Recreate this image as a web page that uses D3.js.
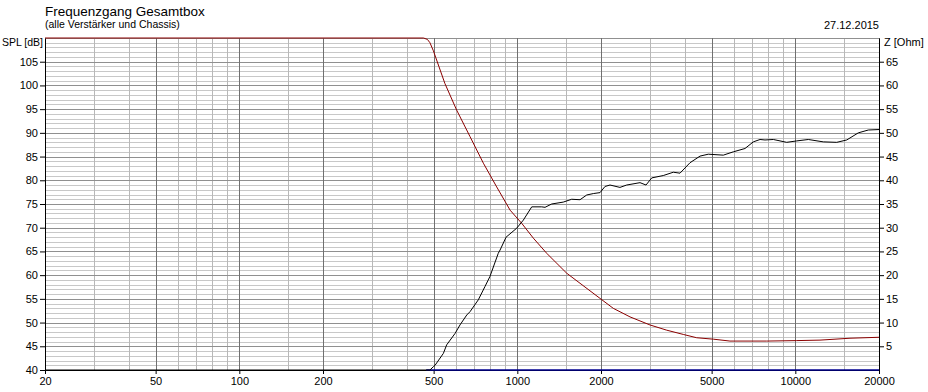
<!DOCTYPE html>
<html>
<head>
<meta charset="utf-8">
<script src="https://cdn.jsdelivr.net/npm/d3@7"></script>
<style>
  html, body { margin: 0; padding: 0; background: #fff; }
  svg { display: block; font-family: "Liberation Sans", Arial, sans-serif; }
</style>
</head>
<body>
<svg id="chart" width="928" height="392"></svg>
<script>
// ---- Data ----
const title = "Frequenzgang Gesamtbox";
const subtitle = "(alle Verstärker und Chassis)";
const dateLabel = "27.12.2015";
const leftAxisLabel = "SPL [dB]";
const rightAxisLabel = "Z [Ohm]";

const xTickValues = [20, 50, 100, 200, 500, 1000, 2000, 5000, 10000, 20000];
const xMinorGrid = [30, 40, 60, 70, 80, 90, 150, 300, 400, 600, 700, 800, 900, 1500, 3000, 4000, 6000, 7000, 8000, 9000, 15000];
const leftTickValues = [40, 45, 50, 55, 60, 65, 70, 75, 80, 85, 90, 95, 100, 105];
const rightTickValues = [5, 10, 15, 20, 25, 30, 35, 40, 45, 50, 55, 60, 65];

// SPL curve (black, left axis, dB)
const splFreq = [20, 485, 499, 506, 542, 557, 597, 622, 658, 676, 724, 765, 797, 854, 867, 911, 995, 1051, 1127, 1224, 1258, 1329, 1463, 1569, 1681, 1777, 1877, 1984, 2068, 2155, 2340, 2474, 2763, 2904, 3044, 3350, 3640, 3848, 4180, 4542, 4864, 5508, 5984, 6592, 7062, 7466, 7780, 8336, 9312, 10116, 11136, 12608, 14092, 15306, 16850, 18306, 20000];
const splDb = [40, 40, 40.7, 41.0, 43.5, 45.3, 47.7, 49.5, 51.6, 52.3, 54.8, 57.6, 59.7, 64.6, 65.3, 68.0, 69.9, 71.6, 74.4, 74.4, 74.3, 75.0, 75.4, 76.0, 75.9, 76.9, 77.2, 77.4, 78.7, 79.0, 78.5, 79.0, 79.5, 79.0, 80.5, 81.0, 81.7, 81.5, 83.7, 85.1, 85.5, 85.3, 86.0, 86.7, 88.1, 88.6, 88.5, 88.6, 88.0, 88.3, 88.6, 88.1, 88.0, 88.5, 90.0, 90.6, 90.7];

// Impedance curve (dark red, right axis, Ohm)
const zFreq = [20, 460, 475, 485, 499, 549, 605, 676, 755, 843, 942, 1038, 1142, 1276, 1506, 1984, 2214, 2543, 3000, 3446, 3954, 4418, 5070, 5820, 7890, 10116, 12270, 15730, 20000];
const zOhm = [70, 70, 69.7, 69.0, 67.3, 60.4, 54.8, 49.2, 43.6, 38.6, 33.7, 30.9, 27.8, 24.6, 20.4, 15.1, 13.0, 11.2, 9.5, 8.4, 7.5, 6.8, 6.5, 6.1, 6.1, 6.2, 6.3, 6.7, 6.9];

// Third curve (navy, left axis, clipped at bottom)
const blueFreq = [470, 1000, 2000, 5000, 10000, 20000];
const blueDb = [40, 40, 40, 40, 40, 40];

// ---- Layout ----
const svg = d3.select("#chart");
const L = 45, R = 879, T = 38, B = 370;

const x = d3.scaleLog().domain([20, 20000]).range([L, R]);
const yL = d3.scaleLinear().domain([40, 110]).range([B, T]);
const yR = d3.scaleLinear().domain([0, 70]).range([B, T]);

const g = svg.append("g").attr("shape-rendering", "crispEdges");

// horizontal grid: every 1 dB light, every 5 dB darker
const hMinor = d3.range(41, 110).filter(v => v % 5 !== 0);
const hMajor = d3.range(45, 111, 5);
g.selectAll("line.hmin").data(hMinor).join("line")
  .attr("x1", L).attr("x2", R)
  .attr("y1", d => Math.round(yL(d)) + 0.5).attr("y2", d => Math.round(yL(d)) + 0.5)
  .attr("stroke", "#c8c8c8");
g.selectAll("line.vmin").data(xMinorGrid).join("line")
  .attr("y1", T).attr("y2", B)
  .attr("x1", d => Math.round(x(d)) + 0.5).attr("x2", d => Math.round(x(d)) + 0.5)
  .attr("stroke", "#b8b8b8");
g.selectAll("line.hmaj").data(hMajor).join("line")
  .attr("x1", L).attr("x2", R)
  .attr("y1", d => Math.round(yL(d)) + 0.5).attr("y2", d => Math.round(yL(d)) + 0.5)
  .attr("stroke", "#909090");
g.selectAll("line.vmaj").data(xTickValues).join("line")
  .attr("y1", T).attr("y2", B)
  .attr("x1", d => Math.round(x(d)) + 0.5).attr("x2", d => Math.round(x(d)) + 0.5)
  .attr("stroke", "#707070");

// axes
const fmt = d3.format("d");
const xAxis = svg.append("g").attr("transform", `translate(0,${B})`)
  .call(d3.axisBottom(x).tickValues(xTickValues).tickFormat(fmt).tickSizeInner(4).tickSizeOuter(0).tickPadding(3));
const leftAxis = svg.append("g").attr("transform", `translate(${L},0)`)
  .call(d3.axisLeft(yL).tickValues(leftTickValues).tickFormat(fmt).tickSizeInner(5).tickSizeOuter(0).tickPadding(2));
const rightAxis = svg.append("g").attr("transform", `translate(${R},0)`)
  .call(d3.axisRight(yR).tickValues(rightTickValues).tickFormat(fmt).tickSizeInner(5).tickSizeOuter(0).tickPadding(2));

[xAxis, leftAxis, rightAxis].forEach(a => {
  a.selectAll("text").attr("font-size", 11).attr("fill", "#000")
    .attr("font-family", "'Liberation Sans', Arial, sans-serif");
  a.selectAll("line").attr("stroke", "#000");
  a.select(".domain").attr("stroke", "#000");
});

// clip
svg.append("clipPath").attr("id", "plot")
  .append("rect").attr("x", L).attr("y", T - 1).attr("width", R - L).attr("height", B - T + 2);

const plot = svg.append("g").attr("clip-path", "url(#plot)");

const lineL = d3.line().x(d => x(d[0])).y(d => yL(d[1]));
const lineR = d3.line().x(d => x(d[0])).y(d => yR(d[1]));

plot.append("path")
  .datum(blueFreq.map((f, i) => [f, blueDb[i]]))
  .attr("d", lineL).attr("fill", "none").attr("stroke", "#000090").attr("stroke-width", 1.3);

plot.append("path")
  .datum(zFreq.map((f, i) => [f, zOhm[i]]))
  .attr("d", lineR).attr("fill", "none").attr("stroke", "#8b0000").attr("stroke-width", 1);

plot.append("path")
  .datum(splFreq.map((f, i) => [f, splDb[i]]))
  .attr("d", lineL).attr("fill", "none").attr("stroke", "#000").attr("stroke-width", 1);

// texts
svg.append("text").attr("x", 45).attr("y", 16).attr("font-size", 13.5).attr("fill", "#000").text(title);
svg.append("text").attr("x", 45).attr("y", 28).attr("font-size", 10.5).attr("fill", "#000").text(subtitle);
svg.append("text").attr("x", 879).attr("y", 29).attr("font-size", 11).attr("text-anchor", "end").attr("fill", "#000").text(dateLabel);
svg.append("text").attr("x", 43).attr("y", 46).attr("font-size", 10.5).attr("text-anchor", "end").attr("fill", "#000").text(leftAxisLabel);
svg.append("text").attr("x", 884).attr("y", 46).attr("font-size", 11).attr("fill", "#000").text(rightAxisLabel);
</script>
</body>
</html>
